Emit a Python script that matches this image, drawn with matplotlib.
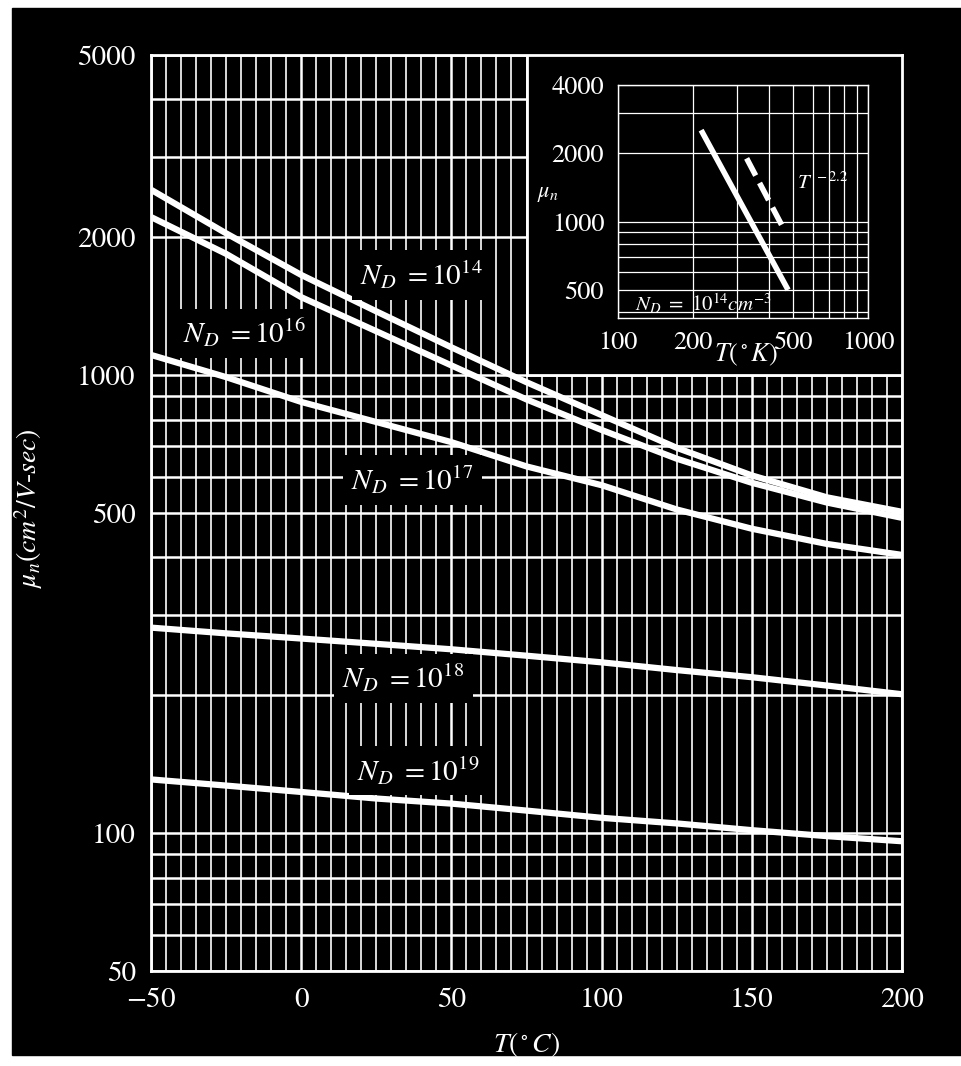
import numpy as np
import matplotlib
matplotlib.use("Agg")
import matplotlib.pyplot as plt
from matplotlib.patches import Rectangle

plt.rcParams['font.family'] = ['STIXGeneral', 'DejaVu Serif']
plt.rcParams['mathtext.fontset'] = 'stix'

# main chart: electron mobility vs temperature
T_C = [-50, -25, 0, 25, 50, 75, 100, 125, 150, 175, 200]
mu_14 = [2540, 2040, 1655, 1378, 1150, 965, 818, 694, 604, 541, 503]
mu_16 = [2214, 1840, 1480, 1247, 1050, 885, 759, 657, 582, 527, 488]
mu_17 = [1107, 990, 874, 790, 714, 632, 575, 509, 462, 428, 405]
mu_18 = [281, 273, 266, 259, 252, 244, 236, 227, 219, 210, 201]
mu_19 = [131, 127, 123, 119, 116, 112, 108, 105, 101.5, 98.5, 96]

y_major = [50, 100, 500, 1000, 2000, 5000]
y_minor = [60, 70, 80, 90, 200, 300, 400, 600, 700, 800, 900, 3000, 4000]
x_major = [-50, 0, 50, 100, 150, 200]

# label text and anchor (T, mu)
labels = [r'$N_D\ =10^{14}$', r'$N_D\ =10^{16}$', r'$N_D\ =10^{17}$',
          r'$N_D\ =10^{18}$', r'$N_D\ =10^{19}$']
label_T = [40, -19, 37, 34, 39]
label_mu = [1655, 1235, 590, 218, 137]

# inset: log-log mu vs T(K)
inset_T = [215, 479]
inset_mu = [2530, 500]
power_T = [327, 457]
power_mu = [1900, 942]
inset_xticks = [100, 200, 500, 1000]
inset_xgrid = [200, 300, 400, 500, 600, 700, 800, 900]
inset_yticks = [500, 1000, 2000, 4000]
inset_ygrid = [400, 600, 700, 800, 900, 3000]

W, H = 962, 1066
fig = plt.figure(figsize=(W / 100, H / 100), dpi=100)
fig.patch.set_facecolor('white')
fig.add_artist(Rectangle((12 / W, 11 / H), 950 / W, 1047 / H,
                         transform=fig.transFigure, color='black', zorder=-10))

ax = fig.add_axes([151 / W, 1 - 971 / H, 751 / W, 916 / H])
ax.set_facecolor('black')
ax.set_yscale('log')
ax.set_xlim(-50, 200)
ax.set_ylim(50, 5000)

ax.set_xticks(x_major)
ax.set_xticklabels(['$-$50', '0', '50', '100', '150', '200'])
ax.set_xticks(np.arange(-50, 201, 5), minor=True)
ax.set_yticks(y_major)
ax.set_yticklabels([str(v) for v in y_major])
ax.set_yticks(y_minor, minor=True)
ax.yaxis.set_minor_formatter(plt.NullFormatter())
ax.tick_params(which='both', length=0, colors='white', labelsize=21)
ax.tick_params(axis='y', pad=11)
ax.tick_params(axis='x', pad=12)

ax.grid(True, which='major', axis='x', color='white', lw=1.8)
ax.grid(True, which='minor', axis='x', color='white', lw=1.2)
ax.grid(True, which='both', axis='y', color='white', lw=1.8)
for s in ax.spines.values():
    s.set_color('white')
    s.set_linewidth(2)

for mu in [mu_14, mu_16, mu_17, mu_18, mu_19]:
    ax.plot(T_C, mu, color='white', lw=4.5, solid_capstyle='butt', zorder=3)

for txt, tx, ty in zip(labels, label_T, label_mu):
    ax.text(tx, ty, txt, color='white', fontsize=21, ha='center', va='center',
            zorder=4, bbox=dict(facecolor='black', edgecolor='none', pad=6))

ax.set_xlabel(r'$T(^\circ C)$', color='white', fontsize=20)
ax.xaxis.set_label_coords(0.5, -0.064)
ax.set_ylabel(r'$\mu_n(cm^2/V$-$sec)$', color='white', fontsize=20)
ax.yaxis.set_label_coords(-0.141, 0.505)

# black box that holds the inset
ax.add_patch(Rectangle((75, 1000), 125, 4000, facecolor='black',
                       edgecolor='white', lw=2, zorder=5))

ins = fig.add_axes([618 / W, 1 - 318 / H, 250 / W, 233 / H])
ins.set_facecolor('none')
ins.set_xscale('log')
ins.set_yscale('log')
ins.set_xlim(100, 1000)
ins.set_ylim(376, 4000)
ins.set_xticks(inset_xticks)
ins.set_xticklabels([str(v) for v in inset_xticks])
ins.set_xticks(inset_xgrid, minor=True)
ins.set_yticks(inset_yticks)
ins.set_yticklabels([str(v) for v in inset_yticks])
ins.set_yticks(inset_ygrid, minor=True)
ins.xaxis.set_minor_formatter(plt.NullFormatter())
ins.yaxis.set_minor_formatter(plt.NullFormatter())
ins.tick_params(which='both', length=0, colors='white', labelsize=19)
ins.tick_params(axis='y', pad=10)
ins.tick_params(axis='x', pad=9)
ins.grid(True, which='both', color='white', lw=0.9)
for s in ins.spines.values():
    s.set_color('white')
    s.set_linewidth(1)

ins.plot(inset_T, inset_mu, color='white', lw=4, solid_capstyle='butt')
ins.plot(power_T, power_mu, color='white', lw=4, dashes=(3.5, 1.5))
ins.text(0.82, 0.58, r'$T^{\ -2.2}$', transform=ins.transAxes, color='white',
         fontsize=15, ha='center', va='center')
ins.text(0.34, 0.06, r'$N_D\ =\ 10^{14}cm^{-3}$', transform=ins.transAxes,
         color='white', fontsize=15, ha='center', va='center')
ins.text(-0.28, 0.53, r'$\mu_n$', transform=ins.transAxes, color='white',
         fontsize=16, ha='center', va='center')
ins.text(0.51, -0.16, r'$T(^\circ K)$', transform=ins.transAxes, color='white',
         fontsize=19, ha='center', va='center')

fig.savefig('out.png', dpi=100, facecolor=fig.get_facecolor())
